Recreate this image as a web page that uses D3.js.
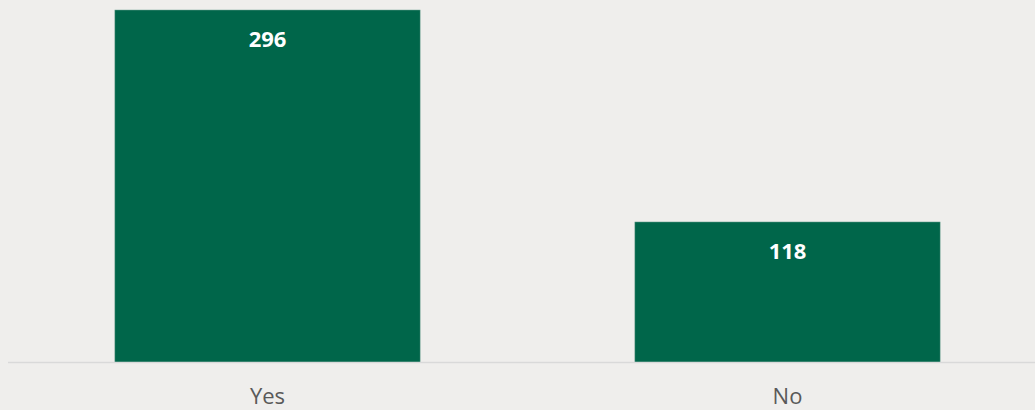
<!DOCTYPE html>
<html>
<head>
<meta charset="utf-8">
<script src="https://cdn.jsdelivr.net/npm/d3@7"></script>
<style>
  body { margin: 0; background: #efeeec; }
  svg { display: block; font-family: "Open Sans", sans-serif; }
</style>
</head>
<body>
<svg id="chart"></svg>
<script>
const categories = ["Yes", "No"];
const counts = [296, 118];

const width = 1035, height = 410;
const baseline = 362.5, plotTop = 10;

const svg = d3.select("#chart").attr("width", width).attr("height", height);

const data = categories.map((c, i) => ({ name: c, value: counts[i] }));

const x = d3.scaleBand()
  .domain(categories)
  .range([7.5, 1047.5])
  .paddingInner(0.413)
  .paddingOuter(0.2065);

const y = d3.scaleLinear()
  .domain([0, d3.max(counts)])
  .range([baseline, plotTop]);

// bars
svg.append("g")
  .selectAll("rect")
  .data(data)
  .join("rect")
  .attr("x", d => x(d.name))
  .attr("y", d => y(d.value))
  .attr("width", x.bandwidth())
  .attr("height", d => y(0) - y(d.value))
  .attr("fill", "#00664a")
  .attr("stroke", "#6fa392")
  .attr("stroke-width", 0.5);

// value labels
svg.append("g")
  .attr("font-size", 22)
  .attr("font-weight", "bold")
  .attr("fill", "#ffffff")
  .attr("text-anchor", "middle")
  .selectAll("text")
  .data(data)
  .join("text")
  .attr("x", d => x(d.name) + x.bandwidth() / 2)
  .attr("y", d => y(d.value) + 37)
  .text(d => d.value);

// x axis
const xAxis = g => g
  .attr("transform", `translate(0,${baseline})`)
  .call(d3.axisBottom(x).tickSize(0).tickPadding(26))
  .call(g => g.select(".domain").attr("d", `M8,0H${width}`).attr("stroke", "#d9d9d9").attr("stroke-width", 1.5))
  .call(g => g.selectAll(".tick text")
    .attr("font-family", "'Open Sans', sans-serif")
    .attr("font-size", 22)
    .attr("fill", "#595959"));

svg.append("g").call(xAxis);
</script>
</body>
</html>
